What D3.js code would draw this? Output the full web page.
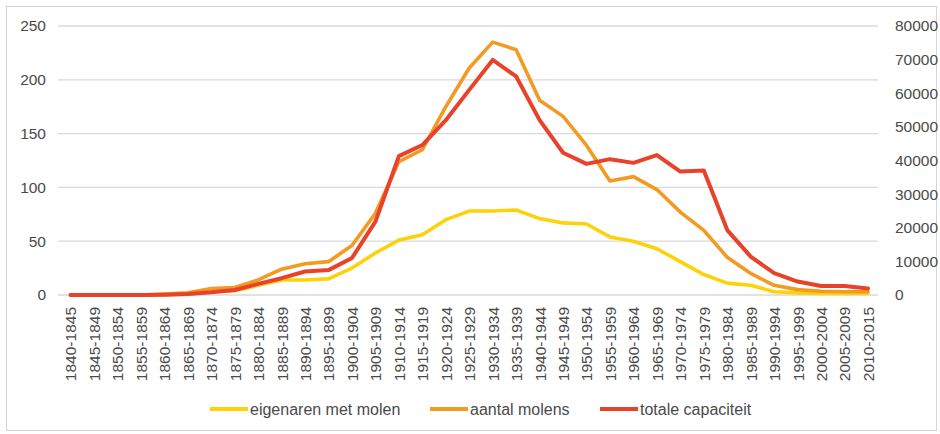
<!DOCTYPE html>
<html>
<head>
<meta charset="utf-8">
<script src="https://cdn.jsdelivr.net/npm/d3@7/dist/d3.min.js"></script>
<style>
  html, body { margin: 0; padding: 0; background: #ffffff; }
  svg { display: block; }
  text { font-family: "Liberation Sans", Arial, sans-serif; fill: #4a4a4a; }
</style>
</head>
<body>
<svg id="chart" width="940" height="434"></svg>
<script>
const categories = ["1840-1845","1845-1849","1850-1854","1855-1859","1860-1864","1865-1869","1870-1874","1875-1879","1880-1884","1885-1889","1890-1894","1895-1899","1900-1904","1905-1909","1910-1914","1915-1919","1920-1924","1925-1929","1930-1934","1935-1939","1940-1944","1945-1949","1950-1954","1955-1959","1960-1964","1965-1969","1970-1974","1975-1979","1980-1984","1985-1989","1990-1994","1995-1999","2000-2004","2005-2009","2010-2015"];

const eigenaren = [0,0,0,0,0,1,3,4,9,14,14,15,25,39,51,56,70,78,78,79,71,67,66,54,50,43,31,19,11,9,3,2,1.5,1.5,1.5];
const aantalMolens = [0,0,0,0,1,2,6,7,14,24,29,31,46,76,124,135,175,211,235,228,181,166,139,106,110,98,77,60,35,20,9,5,3.5,3,3];
const totaleCapaciteit = [0,0,0,0,100,300,800,1500,3300,5000,7000,7400,11000,21800,41300,44600,52000,61000,69900,65000,52000,42300,39000,40400,39300,41600,36700,37000,19300,11400,6500,4000,2700,2700,1900];

const leftTicks = [0,50,100,150,200,250];
const rightTicks = [0,10000,20000,30000,40000,50000,60000,70000,80000];

const seriesNames = ["eigenaren met molen","aantal molens","totale capaciteit"];
const seriesColors = ["#FDD20A","#F39A22","#E8432A"];

const svg = d3.select("#chart");

// outer frame
svg.append("rect").attr("x",6.5).attr("y",6.5).attr("width",930).attr("height",424)
  .attr("fill","#ffffff").attr("stroke","#d6d6d6").attr("stroke-width",1);

const x = d3.scalePoint().domain(categories).range([70.5, 868]);
const yL = d3.scaleLinear().domain([0,250]).range([295, 26]);
const yR = d3.scaleLinear().domain([0,80000]).range([295, 26]);

// gridlines
svg.append("g").selectAll("line").data(leftTicks).join("line")
  .attr("x1",58).attr("x2",878)
  .attr("y1",d=>yL(d)).attr("y2",d=>yL(d))
  .attr("stroke","#d9d9d9").attr("stroke-width",1.3);

// left axis
const gL = svg.append("g").attr("transform","translate(46,0)")
  .call(d3.axisLeft(yL).tickValues(leftTicks).tickSize(0).tickPadding(0));
gL.select(".domain").remove();
gL.selectAll("text").style("font-size","15.5px").attr("fill","#4a4a4a");

// right axis
const gR = svg.append("g").attr("transform","translate(895,0)")
  .call(d3.axisRight(yR).tickValues(rightTicks).tickSize(0).tickPadding(0).tickFormat(d3.format("d")));
gR.select(".domain").remove();
gR.selectAll("text").style("font-size","15.5px").attr("fill","#4a4a4a");

// bottom axis labels (rotated)
const gB = svg.append("g").attr("transform","translate(0,296)")
  .call(d3.axisBottom(x).tickSize(0).tickPadding(0));
gB.select(".domain").remove();
gB.selectAll("text")
  .style("font-size","15.5px")
  .attr("fill","#4a4a4a")
  .attr("text-anchor","end")
  .attr("dy","0.35em")
  .attr("transform","translate(0,11) rotate(-90)")
  .attr("x",0).attr("y",0);

// lines
const lineL = d3.line().x((d,i)=>x(categories[i])).y(d=>yL(d)).curve(d3.curveLinear);
const lineR = d3.line().x((d,i)=>x(categories[i])).y(d=>yR(d)).curve(d3.curveLinear);

svg.append("path").datum(eigenaren).attr("d",lineL)
  .attr("fill","none").attr("stroke",seriesColors[0]).attr("stroke-width",3.6)
  .attr("stroke-linejoin","round").attr("stroke-linecap","round");
svg.append("path").datum(aantalMolens).attr("d",lineL)
  .attr("fill","none").attr("stroke",seriesColors[1]).attr("stroke-width",3.6)
  .attr("stroke-linejoin","round").attr("stroke-linecap","round");
svg.append("path").datum(totaleCapaciteit).attr("d",lineR)
  .attr("fill","none").attr("stroke",seriesColors[2]).attr("stroke-width",4)
  .attr("stroke-linejoin","round").attr("stroke-linecap","round");

// legend
const legendX = [210, 430, 600];
const leg = svg.append("g").attr("transform","translate(0,409)");
seriesNames.forEach((name,i)=>{
  leg.append("line").attr("x1",legendX[i]).attr("x2",legendX[i]+38)
    .attr("y1",0).attr("y2",0)
    .attr("stroke",seriesColors[i]).attr("stroke-width",4);
  leg.append("text").attr("x",legendX[i]+40).attr("y",0).attr("dy","0.35em")
    .style("font-size","16px").text(name);
});
</script>
</body>
</html>
